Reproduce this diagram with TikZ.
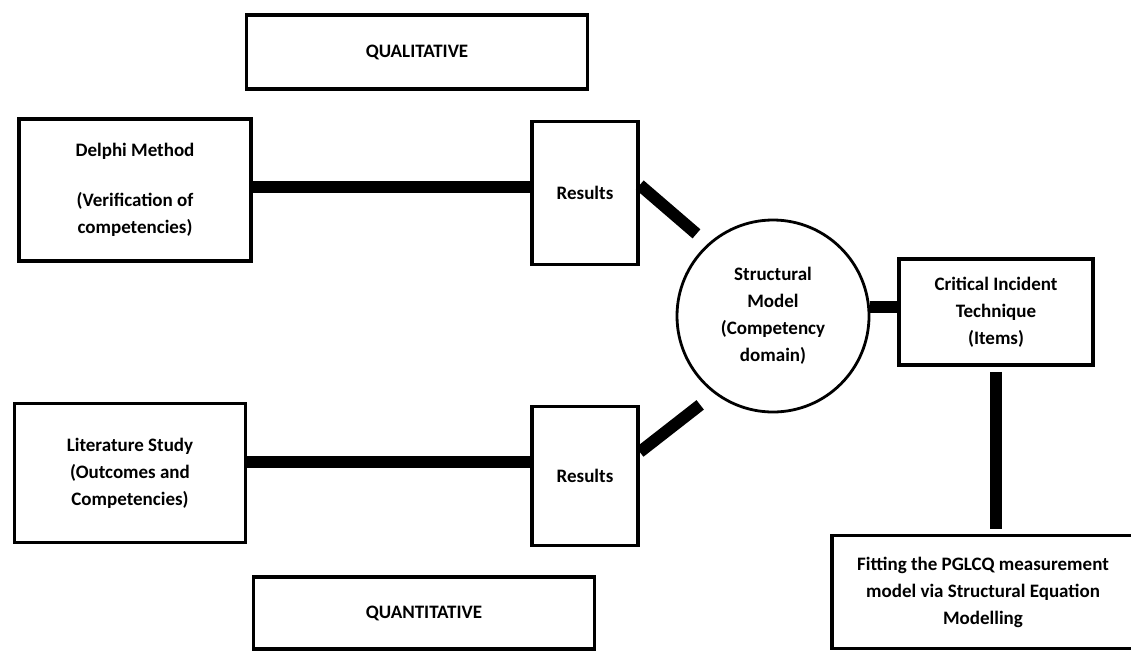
\documentclass[tikz,border=0pt]{standalone}
\usepackage{fontspec}
\setmainfont{Carlito}
\usetikzlibrary{positioning, shapes.geometric, calc}

\tikzset{
  box/.style={draw, line width=3.5pt, align=center, inner sep=2pt,
    font=\fontsize{19}{27}\selectfont\bfseries},
  link/.style={line width=12pt}
}

\begin{document}
\begin{tikzpicture}[x=1pt, y=-1pt]
\clip (0,0) rectangle (1131,654);
% Headings
\node[box, minimum width=341pt, minimum height=74pt] (qual) at (417,52) {QUALITATIVE};
\node[box, minimum width=341pt, minimum height=72pt] (quan) at (424,613) {QUANTITATIVE};
% Left boxes
\node[box, minimum width=232pt, minimum height=142pt] (delphi) at (135,190) {Delphi Method\\[23pt](Verification of\\competencies)};
\node[box, minimum width=231pt, minimum height=139pt] (lit) at (130,473) {Literature Study\\(Outcomes and\\Competencies)};
% Results
\node[box, minimum width=106pt, minimum height=143pt] (resA) at (585,193) {Results};
\node[box, minimum width=106pt, minimum height=139pt] (resB) at (585,476) {Results};
% Structural model
\node[box, circle, line width=2.8pt, minimum size=192pt] (sm) at (773,316) {Structural\\Model\\(Competency\\domain)};
% Right boxes
\node[box, minimum width=194pt, minimum height=106pt] (crit) at (996,312) {Critical Incident\\Technique\\(Items)};
\node[box, minimum width=302pt, minimum height=113pt] (fit) at (983,592) {Fitting the PGLCQ measurement\\model via Structural Equation\\Modelling};
% Connectors
\draw[link] ([yshift=3pt]delphi.east) -- ([yshift=3pt]delphi.east -| resA.west);
\draw[link] ([yshift=11pt]lit.east) -- ([yshift=11pt]lit.east -| resB.west);
\draw[link, shorten >=15pt] ([yshift=8pt]resA.east) -- (sm.132);
\draw[link, shorten >=18pt] ([yshift=24pt]resB.east) -- (sm.233);
\draw[link] ([yshift=5pt]crit.west) -- ([yshift=5pt]crit.west -| sm.east);
\draw[link, shorten <=5pt, shorten >=5pt] (crit.south) -- (crit.south |- fit.north);
\end{tikzpicture}
\end{document}
